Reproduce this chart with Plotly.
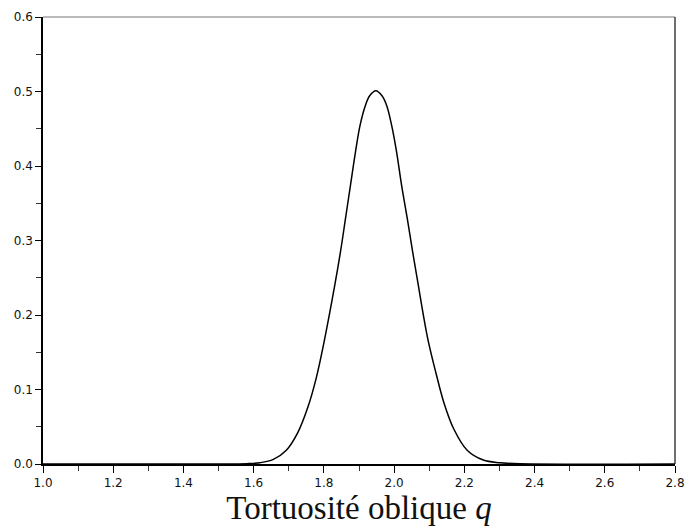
import plotly.graph_objects as go

# Density of the oblique tortuosity q
q_values = [1.00, 1.50, 1.58, 1.618, 1.656, 1.693, 1.726, 1.754, 1.778, 1.801,
            1.831, 1.848, 1.862, 1.876, 1.890, 1.903, 1.918, 1.930, 1.948, 1.966,
            1.979, 1.993, 2.007, 2.021, 2.037, 2.052, 2.066, 2.095, 2.119, 2.142,
            2.170, 2.208, 2.254, 2.301, 2.360, 2.80]
density = [0.0, 0.0, 0.0004, 0.0017, 0.0062, 0.0185, 0.0425, 0.0757, 0.115, 0.165,
           0.240, 0.287, 0.331, 0.375, 0.419, 0.4546, 0.481, 0.494, 0.501, 0.494,
           0.481, 0.4546, 0.419, 0.375, 0.331, 0.287, 0.248, 0.170, 0.1225, 0.082,
           0.047, 0.0185, 0.0053, 0.0017, 0.0003, 0.0]

x_ticks = [1.0, 1.2, 1.4, 1.6, 1.8, 2.0, 2.2, 2.4, 2.6, 2.8]
y_ticks = [0.0, 0.1, 0.2, 0.3, 0.4, 0.5, 0.6]

fig = go.Figure()
fig.add_trace(go.Scatter(
    x=q_values, y=density, mode="lines",
    line=dict(color="black", width=1.5, shape="spline", smoothing=1.0),
    hoverinfo="skip", showlegend=False,
))

tick_font = dict(family="DejaVu Sans, Liberation Sans, sans-serif", size=12, color="#111")

fig.update_layout(
    width=695, height=529,
    margin=dict(l=43, r=11, t=10, b=65),
    paper_bgcolor="white", plot_bgcolor="white",
    xaxis=dict(
        range=[1.0, 2.8], tickvals=x_ticks,
        ticktext=[f"{v:.1f}" for v in x_ticks],
        showgrid=False, zeroline=False,
        showline=True, linecolor="black", linewidth=1.5,
        ticks="outside", ticklen=7, tickwidth=1.2, tickcolor="black",
        minor=dict(dtick=0.1, tick0=1.0, ticks="outside", ticklen=5,
                   tickwidth=1, tickcolor="#333", showgrid=False),
        tickfont=tick_font,
        title=dict(text="Tortuosité oblique <i>q</i>",
                   font=dict(family="Liberation Serif, DejaVu Serif, serif",
                             size=33, color="#111"),
                   standoff=2),
    ),
    yaxis=dict(
        range=[0.0, 0.6], tickvals=y_ticks,
        ticktext=[f"{v:.1f}" for v in y_ticks],
        showgrid=False, zeroline=False,
        showline=True, linecolor="black", linewidth=1.5,
        ticks="outside", ticklen=6, tickwidth=1.2, tickcolor="black",
        minor=dict(dtick=0.05, tick0=0.0, ticks="outside", ticklen=5,
                   tickwidth=1, tickcolor="#333", showgrid=False),
        tickfont=tick_font,
    ),
    shapes=[
        dict(type="line", xref="paper", yref="paper", x0=0, x1=1, y0=1, y1=1,
             line=dict(color="#777", width=1.2)),
        dict(type="line", xref="paper", yref="paper", x0=1, x1=1, y0=0, y1=1,
             line=dict(color="#222", width=1.3)),
    ],
)

fig.write_html("out.html")
